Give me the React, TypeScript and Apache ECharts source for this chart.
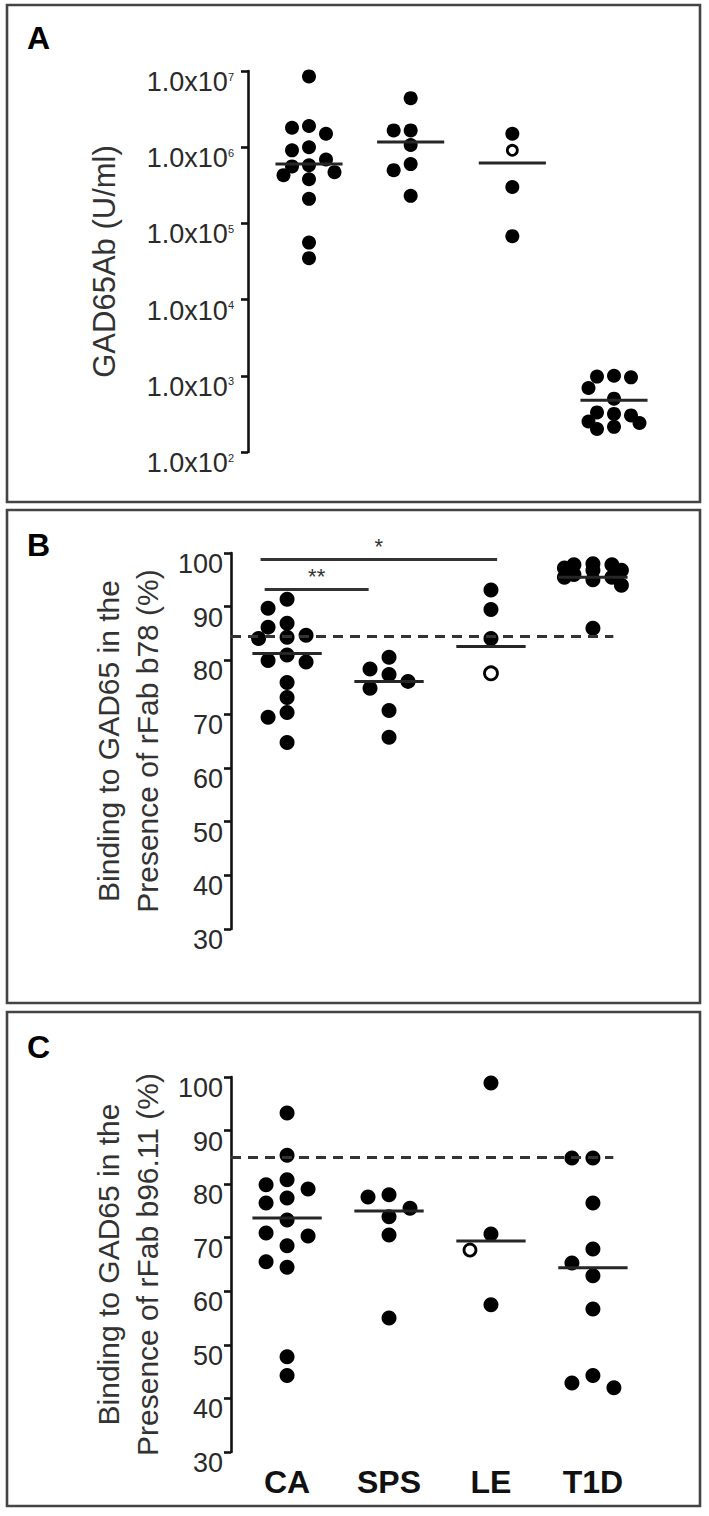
import React, { useEffect, useRef } from "react";
import * as echarts from "echarts";

// ---------- data ----------
const categories = ["CA", "SPS", "LE", "T1D"];

// Panel A: GAD65Ab (U/ml), log scale
const aCA = [8.5e6, 1.9e6, 1.8e6, 1.5e6, 1.0e6, 9.1e5, 6.9e5, 5.8e5, 5.6e5, 4.7e5, 4.3e5, 3.8e5, 2.1e5, 5.6e4, 3.5e4];
const aSPS = [4.4e6, 1.66e6, 1.66e6, 1.07e6, 6.0e5, 5.0e5, 2.3e5];
const aLE = [1.5e6, 3.0e5, 6.8e4];
const aLEOpen = [9.1e5];
const aT1D = [1000, 977, 955, 692, 501, 331, 316, 302, 251, 240, 214, 200];
const aMedian = [6.0e5, 1.17e6, 6.2e5, 479];
const aTickExponents = [2, 3, 4, 5, 6, 7];

// Panel B: binding in presence of rFab b78 (%)
const bCA = [91.4, 89.7, 86.9, 86.2, 84.7, 84.3, 84.1, 81.0, 80.0, 79.7, 75.9, 73.1, 70.3, 69.4, 64.7];
const bSPS = [80.6, 78.4, 77.4, 76.1, 74.8, 70.7, 65.7];
const bLE = [93.1, 89.5, 84.1];
const bLEOpen = [77.6];
const bT1D = [98.0, 97.8, 97.8, 97.2, 96.8, 96.8, 96.0, 95.5, 95.5, 95.0, 94.0, 86.0];
const bMedian = [81.3, 76.1, 82.6, 95.5];
const bCutoff = 84.5;
const bSigLabels = ["*", "**"];
const bSigLevels = [98.9, 93.3];
const bSigSpans = [[0.74, 3.06], [0.78, 1.8]];

// Panel C: binding in presence of rFab b96.11 (%)
const cCA = [93.3, 85.4, 80.8, 79.9, 79.1, 77.4, 76.5, 73.3, 70.9, 70.3, 68.5, 65.5, 64.5, 47.8, 44.3];
const cSPS = [78.0, 77.6, 75.5, 73.9, 70.5, 55.0];
const cLE = [98.9, 70.7, 57.5];
const cLEOpen = [67.7];
const cT1D = [84.9, 84.9, 76.5, 67.9, 65.3, 62.9, 56.7, 44.3, 42.0, 42.9];
const cMedian = [73.7, 75.0, 69.4, 64.4];
const cCutoff = 85;

const pctTicks = [30, 40, 50, 60, 70, 80, 90, 100];

// ---------- helpers ----------
const FONT = "'Liberation Sans', Arial, Helvetica, sans-serif";

type Pt = { v: number; open: boolean };

// compact beeswarm: offsets (in steps) for each point; overlap allowed when crowded
function swarm(points: Pt[], toPx: (v: number) => number, stepPx: number, minDist: number): number[] {
  const order = points.map((_, i) => i).sort((a, b) => points[b].v - points[a].v);
  const placed: { x: number; y: number }[] = [];
  const offs = new Array(points.length).fill(0);
  const cands = [0, -1, 1, -1.5, 1.5];
  for (const i of order) {
    const y = toPx(points[i].v);
    let best = 0;
    let bestD = -1;
    let done = false;
    for (const c of cands) {
      const x = c * stepPx;
      const d = placed.length ? Math.min(...placed.map((p) => Math.hypot(p.x - x, p.y - y))) : Infinity;
      if (d >= minDist) {
        offs[i] = c;
        placed.push({ x, y });
        done = true;
        break;
      }
      if (d > bestD) {
        bestD = d;
        best = c;
      }
    }
    if (!done) {
      offs[i] = best;
      placed.push({ x: best * stepPx, y });
    }
  }
  return offs;
}

function buildPoints(
  groups: Pt[][],
  toPx: (v: number) => number,
  stepPx: number,
  minDist: number,
  pxPerUnit: number
) {
  const filled: number[][] = [];
  const open: number[][] = [];
  groups.forEach((g, gi) => {
    const offs = swarm(g, toPx, stepPx, minDist);
    g.forEach((p, i) => {
      const x = gi + 1 + (offs[i] * stepPx) / pxPerUnit;
      (p.open ? open : filled).push([x, p.v]);
    });
  });
  return { filled, open };
}

const mk = (arr: number[], open = false): Pt[] => arr.map((v) => ({ v, open }));

export default function App() {
  const ref = useRef<HTMLDivElement>(null);

  useEffect(() => {
    if (!ref.current) return;
    const chart = echarts.init(ref.current, undefined, { renderer: "svg" });

    const gridA = { left: 248, top: 71, width: 427, height: 381 };
    const gridB = { left: 231, top: 553, width: 418, height: 376 };
    const gridC = { left: 231, top: 1077, width: 418, height: 375 };

    const aUnit = gridA.width / 4.2;
    const bcUnit = gridB.width / 4.1;

    const A = buildPoints(
      [mk(aCA), mk(aSPS), [...mk(aLE), ...mk(aLEOpen, true)], mk(aT1D)],
      (v) => Math.log10(v) * (gridA.height / 5),
      17,
      14,
      aUnit
    );
    const B = buildPoints(
      [mk(bCA), mk(bSPS), [...mk(bLE), ...mk(bLEOpen, true)], mk(bT1D)],
      (v) => v * (gridB.height / 70),
      19,
      15,
      bcUnit
    );
    const C = buildPoints(
      [mk(cCA), mk(cSPS), [...mk(cLE), ...mk(cLEOpen, true)], mk(cT1D)],
      (v) => v * (gridC.height / 70),
      21,
      17,
      bcUnit
    );

    const axisLineStyle = { color: "#111", width: 2.6 };
    const labelColor = "#2a2a2a";

    const pctYAxis = (gridIndex: number, name: string, nameGap: number) => ({
      type: "value",
      gridIndex,
      min: pctTicks[0],
      max: pctTicks[pctTicks.length - 1],
      interval: 10,
      name,
      nameLocation: "middle",
      nameGap,
      nameTextStyle: { fontSize: 30, lineHeight: 39, color: "#333", fontFamily: FONT },
      axisLine: { show: true, lineStyle: axisLineStyle },
      axisTick: { show: true, length: 7, lineStyle: axisLineStyle },
      splitLine: { show: false },
      axisLabel: {
        fontSize: 27,
        lineHeight: 22,
        color: labelColor,
        fontFamily: FONT,
        verticalAlign: "top",
        margin: 8,
      },
    });

    const xAxisBase = (gridIndex: number, min: number, max: number, showLabels: boolean) => ({
      type: "value",
      gridIndex,
      min,
      max,
      axisLine: { show: false },
      axisTick: { show: false },
      splitLine: { show: false },
      axisLabel: showLabels
        ? {
            show: true,
            customValues: [1, 2, 3, 4],
            formatter: (v: number) => categories[Math.round(v) - 1] || "",
            fontSize: 32,
            fontWeight: "bold",
            color: "#111",
            fontFamily: FONT,
            margin: 14,
          }
        : { show: false },
    });

    const dotSeries = (idx: number, data: number[][], extra: any = {}) => ({
      type: "scatter",
      xAxisIndex: idx,
      yAxisIndex: idx,
      data,
      symbol: "circle",
      symbolSize: 15,
      itemStyle: { color: "#000", opacity: 1 },
      silent: true,
      z: 3,
      ...extra,
    });

    const openSeries = (idx: number, data: number[][], size: number) => ({
      type: "scatter",
      xAxisIndex: idx,
      yAxisIndex: idx,
      data,
      symbol: "circle",
      symbolSize: size,
      itemStyle: { color: "#fff", borderColor: "#000", borderWidth: 2.8, opacity: 1 },
      silent: true,
      z: 4,
    });

    const medianSeries = (idx: number, medians: number[], half: number) => ({
      type: "custom",
      xAxisIndex: idx,
      yAxisIndex: idx,
      data: medians.map((m, i) => [i + 1, m]),
      silent: true,
      z: 5,
      renderItem: (params: any, api: any) => {
        const x = api.value(0);
        const y = api.value(1);
        const p1 = api.coord([x - half, y]);
        const p2 = api.coord([x + half, y]);
        return {
          type: "line",
          shape: { x1: p1[0], y1: p1[1], x2: p2[0], y2: p2[1] },
          style: { stroke: "#262626", lineWidth: 3 },
        };
      },
    });

    const cutoffLine = (xMin: number, level: number) => ({
      symbol: ["none", "none"],
      silent: true,
      animation: false,
      label: { show: false },
      lineStyle: { color: "#333", width: 3, type: [10, 7] },
      data: [[{ coord: [xMin, level] }, { coord: [4.2, level] }]],
    });

    const option: any = {
      animation: false,
      backgroundColor: "#fff",
      textStyle: { fontFamily: FONT },
      grid: [gridA, gridB, gridC],
      xAxis: [xAxisBase(0, 0.4, 4.6, false), xAxisBase(1, 0.45, 4.55, false), xAxisBase(2, 0.45, 4.55, true)],
      yAxis: [
        {
          type: "log",
          logBase: 10,
          gridIndex: 0,
          min: Math.pow(10, aTickExponents[0]),
          max: Math.pow(10, aTickExponents[aTickExponents.length - 1]),
          splitNumber: aTickExponents.length - 1,
          name: "GAD65Ab (U/ml)",
          nameLocation: "middle",
          nameGap: 126,
          nameTextStyle: { fontSize: 31, lineHeight: 36, color: "#333", fontFamily: FONT },
          axisLine: { show: true, lineStyle: axisLineStyle },
          axisTick: { show: true, length: 7, lineStyle: axisLineStyle },
          splitLine: { show: false },
          axisLabel: {
            verticalAlign: "top",
            margin: 14,
            color: labelColor,
            fontSize: 27,
            formatter: (v: number) => `{m|1.0x10}{s|${Math.round(Math.log10(v))}}`,
            rich: {
              m: { fontSize: 27, lineHeight: 22, color: labelColor, fontFamily: FONT },
              s: { fontSize: 11, lineHeight: 11, verticalAlign: "top", color: labelColor, fontFamily: FONT },
            },
          },
        },
        pctYAxis(1, "Binding to GAD65 in the\nPresence of rFab b78 (%)", 60),
        pctYAxis(2, "Binding to GAD65 in the\nPresence of rFab b96.11 (%)", 64),
      ],
      series: [
        dotSeries(0, A.filled, { symbolSize: 14 }),
        openSeries(0, A.open, 10),
        medianSeries(0, aMedian, 0.33),

        dotSeries(1, B.filled, {
          markLine: {
            symbol: ["none", "none"],
            silent: true,
            animation: false,
            lineStyle: { color: "#333", width: 3, type: "solid" },
            label: {
              show: true,
              position: "insideMiddleTop",
              distance: 1,
              fontSize: 22,
              color: "#333",
              fontFamily: FONT,
            },
            data: bSigLabels.map((lab, i) => [
              {
                coord: [bSigSpans[i][0], bSigLevels[i]],
                label: { formatter: lab },
              },
              { coord: [bSigSpans[i][1], bSigLevels[i]] },
            ]),
          },
        }),
        openSeries(1, B.open, 13),
        medianSeries(1, bMedian, 0.34),
        {
          type: "scatter",
          xAxisIndex: 1,
          yAxisIndex: 1,
          data: [[0.45, bCutoff]],
          symbolSize: 0,
          silent: true,
          markLine: cutoffLine(0.45, bCutoff),
        },

        dotSeries(2, C.filled),
        openSeries(2, C.open, 12),
        medianSeries(2, cMedian, 0.34),
        {
          type: "scatter",
          xAxisIndex: 2,
          yAxisIndex: 2,
          data: [[0.45, cCutoff]],
          symbolSize: 0,
          silent: true,
          markLine: cutoffLine(0.45, cCutoff),
        },
      ],
      graphic: [
        ...[
          [7, 5, 693, 497],
          [7, 510, 693, 493],
          [7, 1012, 693, 494],
        ].map(([x, y, w, h]) => ({
          type: "rect",
          shape: { x, y, width: w, height: h },
          style: { fill: "none", stroke: "#444", lineWidth: 2.6 },
          silent: true,
          z: 0,
        })),
        ...[
          ["A", 22],
          ["B", 529],
          ["C", 1031],
        ].map(([t, y]) => ({
          type: "text",
          x: 27,
          y: y as number,
          style: {
            text: t as string,
            fontSize: 32,
            fontWeight: "bold",
            fill: "#000",
            fontFamily: FONT,
            textVerticalAlign: "top",
          },
          silent: true,
        })),
      ],
    };

    chart.setOption(option);
    return () => chart.dispose();
  }, []);

  return (
    <div
      ref={ref}
      style={{ position: "absolute", left: 0, top: 0, width: 709, height: 1516, background: "#fff" }}
    />
  );
}
